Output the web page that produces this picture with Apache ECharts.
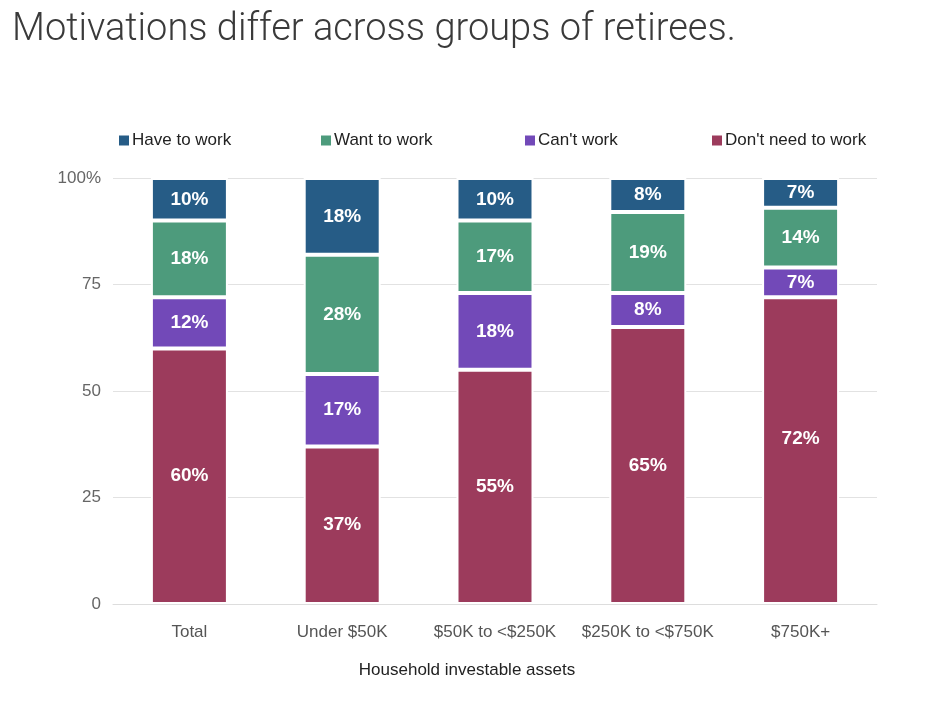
<!DOCTYPE html>
<html>
<head>
<meta charset="utf-8">
<script src="https://cdn.jsdelivr.net/npm/echarts@6/dist/echarts.min.js"></script>
<style>
html,body{margin:0;padding:0;background:#fff;}
#chart{width:946px;height:714px;}
</style>
</head>
<body>
<div id="chart"></div>
<script>
var categories = ['Total', 'Under $50K', '$50K to <$250K', '$250K to <$750K', '$750K+'];
var haveToWork = [10, 18, 10, 8, 7];
var wantToWork = [18, 28, 17, 19, 14];
var cantWork = [12, 17, 18, 8, 7];
var dontNeedToWork = [60, 37, 55, 65, 72];
var yTicks = [0, 25, 50, 75, 100];

var colors = {
  have: '#265c86',
  want: '#4d9b7c',
  cant: '#7249b8',
  dont: '#9c3b5c'
};
var FONT = 'Liberation Sans, Arial, sans-serif';

var chart = echarts.init(document.getElementById('chart'), null, {renderer: 'canvas'});

function mkSeries(name, data, color, labelOffsets) {
  return {
    name: name,
    type: 'bar',
    stack: 'total',
    data: data.map(function (v, i) {
      var item = {value: v};
      if (labelOffsets && labelOffsets[i]) item.label = {offset: labelOffsets[i]};
      return item;
    }),
    barWidth: 77,
    itemStyle: {color: color, borderColor: '#ffffff', borderWidth: 2},
    label: {
      show: true,
      position: 'inside',
      formatter: '{c}%',
      color: '#ffffff',
      fontWeight: 'bold',
      fontSize: 19,
      fontFamily: FONT
    },
    emphasis: {disabled: true}
  };
}

var legendBase = {
  top: 127,
  itemWidth: 12,
  itemHeight: 12,
  icon: 'rect',
  itemGap: 0,
  textStyle: {color: '#222', fontSize: 17, fontFamily: FONT, padding: [0, 0, 0, -3]},
  selectedMode: false
};

chart.setOption({
  animation: false,
  title: {
    text: 'Motivations differ across groups of retirees.',
    left: 7,
    top: 6,
    textStyle: {
      color: '#3a3a3a',
      fontSize: 38,
      fontWeight: 300,
      fontFamily: 'Roboto, Liberation Sans, sans-serif'
    }
  },
  legend: [
    Object.assign({}, legendBase, {left: 112, data: ['Have to work']}),
    Object.assign({}, legendBase, {left: 314, data: ['Want to work']}),
    Object.assign({}, legendBase, {left: 518, data: ["Can't work"]}),
    Object.assign({}, legendBase, {left: 705, data: ["Don't need to work"]})
  ],
  grid: {left: 113, right: 69, top: 178, bottom: 110, containLabel: false},
  xAxis: {
    type: 'category',
    data: categories,
    name: 'Household investable assets',
    nameLocation: 'middle',
    nameGap: 58,
    nameTextStyle: {color: '#222', fontSize: 17, fontFamily: FONT, padding: [0, 56, 0, 0]},
    axisLine: {show: true, lineStyle: {color: '#dddddd', width: 1}},
    axisTick: {show: false},
    axisLabel: {color: '#555', fontSize: 17, margin: 20, interval: 0, fontFamily: FONT}
  },
  yAxis: {
    type: 'value',
    min: yTicks[0],
    max: yTicks[yTicks.length - 1],
    interval: 25,
    axisLine: {show: false},
    axisTick: {show: false},
    splitLine: {lineStyle: {color: '#e2e2e2', width: 1}},
    axisLabel: {
      color: '#666',
      fontSize: 17,
      margin: 12,
      padding: [7, 0, 0, 0],
      fontFamily: FONT,
      formatter: function (v) { return v === 100 ? '100%' : String(v); }
    }
  },
  series: [
    mkSeries("Don't need to work", dontNeedToWork, colors.dont, [null, null, null, null, [0, -12]]),
    mkSeries("Can't work", cantWork, colors.cant),
    mkSeries('Want to work', wantToWork, colors.want),
    mkSeries('Have to work', haveToWork, colors.have)
  ]
});
</script>
</body>
</html>
